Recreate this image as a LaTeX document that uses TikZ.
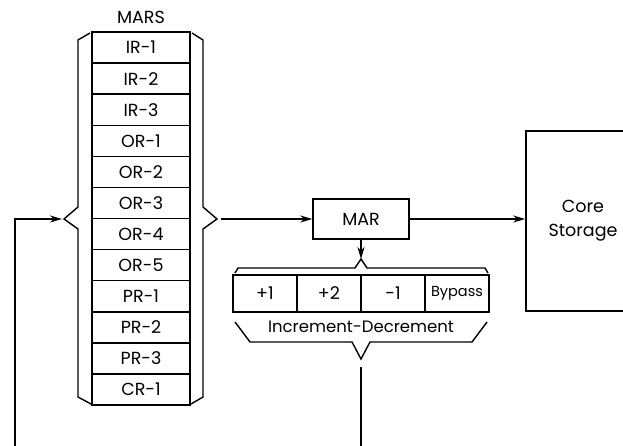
\documentclass[tikz,border=0pt]{standalone}
\usepackage{fontspec}
\setmainfont{Poppins}
\usetikzlibrary{arrows.meta,positioning,calc}

\begin{document}
\begin{tikzpicture}[
    x=1pt, y=-1pt,
    reg/.style={draw, line width=1.4pt, minimum width=98pt, minimum height=31.1pt, outer sep=0pt, inner sep=0pt, font=\fontsize{17.5}{20}\selectfont},
    incdec/.style={draw, line width=1.4pt, minimum width=64pt, minimum height=37pt, outer sep=0pt, inner sep=0pt, font=\fontsize{17.5}{20}\selectfont},
    lbl/.style={font=\fontsize{17.5}{24}\selectfont},
    brace/.style={line width=1.4pt},
    flow/.style={-{Stealth[length=12pt,width=7pt]}, line width=1.8pt},
]
\useasboundingbox (0,0) rectangle (623,446);

\node[lbl] (mars) at (141,17) {MARS};
\node[reg] (ir1) at (141,47.5) {IR-1};
\node[reg, below=0pt of ir1] (ir2) {IR-2};
\node[reg, below=0pt of ir2] (ir3) {IR-3};
\node[reg, below=0pt of ir3] (or1) {OR-1};
\node[reg, below=0pt of or1] (or2) {OR-2};
\node[reg, below=0pt of or2] (or3) {OR-3};
\node[reg, below=0pt of or3] (or4) {OR-4};
\node[reg, below=0pt of or4] (or5) {OR-5};
\node[reg, below=0pt of or5] (pr1) {PR-1};
\node[reg, below=0pt of pr1] (pr2) {PR-2};
\node[reg, below=0pt of pr2] (pr3) {PR-3};
\node[reg, below=0pt of pr3] (cr1) {CR-1};

% braces round the MARS stack
\draw[brace] (90,33) -- (78,40) -- (78,207) -- (64,219) coordinate (lbt) -- (78,229) -- (78,397) -- (91,404);
\draw[brace] (192,33) -- (203,40) -- (203,207) -- (217,219) coordinate (rbt) -- (203,229) -- (203,397) -- (191,404);

\node[draw, line width=1.4pt, minimum width=96pt, minimum height=40pt, lbl] (mar) at (361,219) {MAR};
\node[draw, line width=1.6pt, minimum width=114pt, minimum height=180pt, align=center, lbl] (core) at (583,221) {Core\\Storage};

\node[incdec] (inc1) at (265,293.5) {+1};
\node[incdec, right=0pt of inc1] (inc2) {+2};
\node[incdec, right=0pt of inc2] (dec1) {-1};
\node[incdec, right=0pt of dec1, font=\fontsize{14.5}{16}\selectfont] (bypass) {Bypass};

% braces round the increment unit
\draw[brace] (235,273) -- (238,268) -- (355,268) -- (361,259) coordinate (tbt) -- (367,268) -- (485,268) -- (488,273);
\draw[brace] (235,322) -- (250,342) -- (352,342) -- (361,359) -- (370,342) -- (472,342) -- (487,322);
\node[lbl, font=\fontsize{16.5}{20}\selectfont] (incdeclbl) at (361,327) {Increment-Decrement};

\coordinate (fbl) at (15,446);
\coordinate (fbr) at (361,446);
\coordinate (fbt) at (361,367);

\draw[flow, shorten <=4pt] (rbt) -- (mar);
\draw[flow] (mar.east) -- (mar.east -| core.west);
\draw[flow] (mar) -- (tbt);
\draw[flow, shorten >=2pt] (fbl) |- (lbt);
\draw[line width=1.8pt] (fbr) -- (fbt);
\end{tikzpicture}
\end{document}
